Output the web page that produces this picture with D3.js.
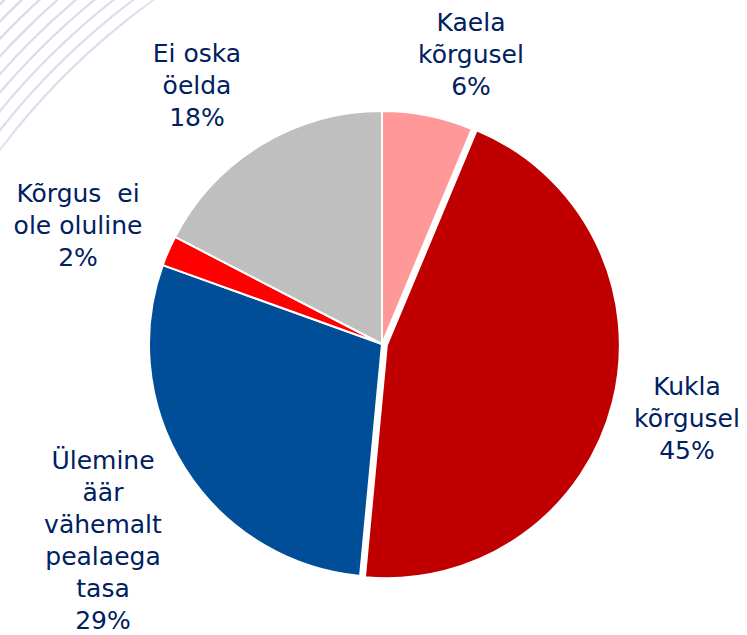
<!DOCTYPE html>
<meta charset="utf-8">
<html>
  <head>
    <script src="https://cdn.jsdelivr.net/npm/d3@7"></script>
    <style>
      body { margin: 0; background: #fff; }
      svg { display: block; }
      text { font-family: "DejaVu Sans", Verdana, sans-serif; }
    </style>
  </head>
  <body>
  <script>

// answer categories, clockwise from 12 o'clock
const categories = ['Kaela kõrgusel', 'Kukla kõrgusel', 'Ülemine äär vähemalt pealaega tasa',
                    'Kõrgus ei ole oluline', 'Ei oska öelda'];
const values = [6.3, 45.2, 29.0, 2.1, 17.4];
const pct_labels = ['6%', '45%', '29%', '2%', '18%'];
const label_lines = [
  ['Kaela', 'kõrgusel'],
  ['Kukla', 'kõrgusel'],
  ['Ülemine', 'äär', 'vähemalt', 'pealaega', 'tasa'],
  ['Kõrgus  ei', 'ole oluline'],
  ['Ei oska', 'öelda']
];

const colours = ['#ff9999', '#c00000', '#004e98', '#ff0000', '#bfbfbf'];
// label block: centre x, baseline of first line
const label_pos = [[471, 31], [687, 395], [103, 469], [78, 202], [197, 62]];
const exploded = 1; // Kukla slice pulled out a bit

const width = 747, height = 635,
      cx = 382, cy = 344, radius = 233,
      line_h = 32, text_colour = '#002060';

const svg = d3.select('body').append('svg')
  .attr('width', width)
  .attr('height', height);

// faint background arcs, top left
const defs = svg.append('defs');
const grad = defs.append('radialGradient')
  .attr('id', 'fade')
  .attr('gradientUnits', 'userSpaceOnUse')
  .attr('cx', 0).attr('cy', 0).attr('r', 230);
grad.append('stop').attr('offset', '0%').attr('stop-color', '#fff').attr('stop-opacity', 1);
grad.append('stop').attr('offset', '55%').attr('stop-color', '#fff').attr('stop-opacity', 0.9);
grad.append('stop').attr('offset', '100%').attr('stop-color', '#fff').attr('stop-opacity', 0);
defs.append('mask').attr('id', 'bgmask')
  .append('rect').attr('width', width).attr('height', height).attr('fill', 'url(#fade)');

svg.append('g')
  .attr('mask', 'url(#bgmask)')
  .selectAll('circle')
  .data(d3.range(9))
  .enter()
    .append('circle')
      .attr('cx', 560).attr('cy', 570)
      .attr('r', i => 700 + i * 12)
      .attr('fill', 'none')
      .attr('stroke', '#d6dce7')
      .attr('stroke-width', 2.2);

const pie = d3.pie().sort(null).value(d => d)(values);
const arc = d3.arc().innerRadius(0).outerRadius(radius);

const g = svg.append('g').attr('transform', `translate(${cx},${cy})`);

g.selectAll('path')
  .data(pie)
  .enter()
    .append('path')
      .attr('d', arc)
      .attr('fill', (d, i) => colours[i])
      .attr('stroke', '#fff')
      .attr('stroke-width', 2)
      .attr('stroke-linejoin', 'round')
      .attr('transform', (d, i) => {
        if (i !== exploded) return null;
        const a = (d.startAngle + d.endAngle) / 2, off = 5;
        return `translate(${Math.sin(a) * off},${-Math.cos(a) * off})`;
      });

const labels = svg.append('g')
  .selectAll('text')
  .data(pie)
  .enter()
    .append('text')
      .attr('text-anchor', 'middle')
      .attr('fill', text_colour)
      .style('font-size', '25px');

labels.each(function(d, i) {
  const lines = label_lines[i].concat([pct_labels[i]]);
  d3.select(this).selectAll('tspan')
    .data(lines)
    .enter()
      .append('tspan')
        .attr('x', label_pos[i][0])
        .attr('y', (t, j) => label_pos[i][1] + j * line_h)
        .style('white-space', 'pre')
        .text(t => t);
});

  </script>
  </body>
</html>
